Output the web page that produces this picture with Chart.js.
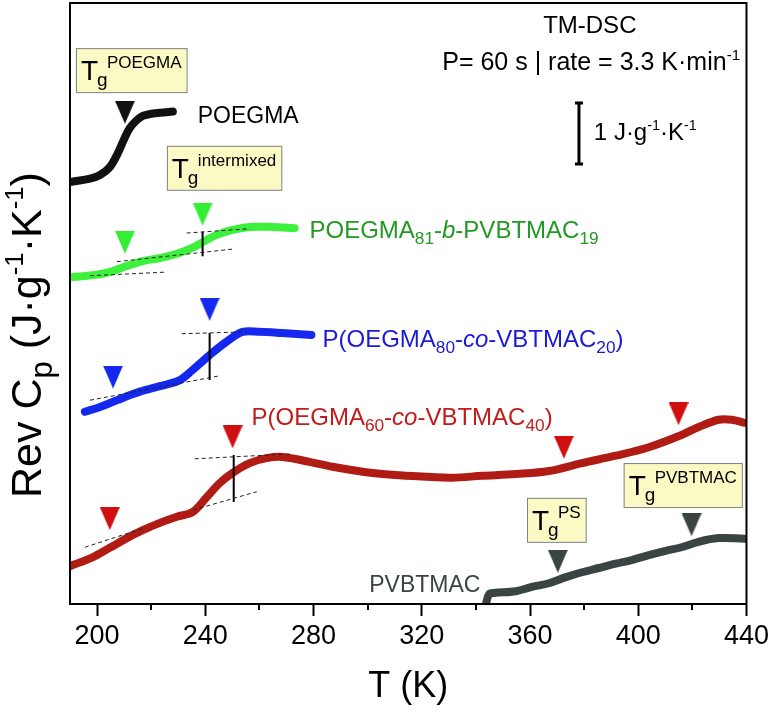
<!DOCTYPE html>
<html>
<head>
<meta charset="utf-8">
<script src="https://cdn.jsdelivr.net/npm/chart.js@4.4.1/dist/chart.umd.min.js"></script>
<style>
  body { margin: 0; background: #fff; }
  #wrap { width: 773px; height: 712px; }
</style>
</head>
<body>
<div id="wrap"><canvas id="dsc" width="773" height="712"></canvas></div>
<script>
// T in K, reversing Cp in J/g/K (curves shifted vertically for clarity)
const tPOEGMA  = [190.7, 197.4, 201.1, 204.7, 207.7, 209.9, 212.1, 214.7, 216.9, 219.5, 223.2, 228.0];
const cpPOEGMA = [6.92, 6.97, 7.03, 7.16, 7.39, 7.61, 7.80, 7.93, 8.00, 8.03, 8.05, 8.07];

const tBlock  = [191.1, 198.5, 204.7, 211.0, 216.9, 223.2, 229.5, 235.4, 239.0, 244.2, 250.1, 256.4, 264.9, 273.0];
const cpBlock = [5.36, 5.39, 5.44, 5.54, 5.62, 5.67, 5.74, 5.84, 5.93, 6.05, 6.13, 6.18, 6.18, 6.16];

const tCo80  = [195.5, 201.1, 207.3, 215.8, 223.2, 230.6, 235.4, 241.6, 247.9, 253.8, 260.1, 268.5, 279.2];
const cpCo80 = [3.15, 3.23, 3.34, 3.48, 3.57, 3.67, 3.84, 4.08, 4.30, 4.46, 4.46, 4.44, 4.41];

const tCo60  = [190.0, 198.5, 204.7, 211.0, 216.9, 223.2, 229.5, 235.4, 240.5, 245.3, 250.1, 256.4, 262.6, 268.5,
                278.5, 287.0, 299.5, 311.7, 323.8, 331.2, 342.3, 354.8, 367.0, 379.2, 391.7, 403.9, 416.0, 422.3,
                429.7, 434.5, 439.3];
const cpCo60 = [0.62, 0.77, 0.92, 1.08, 1.21, 1.33, 1.43, 1.51, 1.75, 1.98, 2.15, 2.31, 2.39, 2.41,
                2.33, 2.25, 2.16, 2.11, 2.08, 2.07, 2.10, 2.13, 2.18, 2.31, 2.43, 2.57, 2.77, 2.90,
                3.02, 3.02, 2.97];

const tPVB  = [343.8, 344.9, 346.7, 354.8, 360.7, 367.0, 373.3, 379.2, 385.4, 391.7, 397.6, 403.9, 410.1, 416.0, 422.3, 429.7, 439.3];
const cpPVB = [0.02, 0.16, 0.18, 0.21, 0.28, 0.34, 0.44, 0.52, 0.59, 0.66, 0.72, 0.80, 0.87, 0.93, 1.02, 1.08, 1.07];

// Tg markers (T, Cp at marker centre)
const tgPOEGMA = [[210.3, 8.06]];
const tgBlock  = [[210.3, 5.93], [239.0, 6.39]];
const tgCo80   = [[205.9, 3.72], [241.6, 4.83]];
const tgCo60   = [[204.7, 1.40], [250.1, 2.74], [372.5, 2.57], [414.9, 3.12]];
const tgPVB    = [[370.3, 0.70], [419.7, 1.30]];

// tangent construction lines
const tangents = [
  [[197.4, 5.38], [225.8, 5.44]], [[207.3, 5.61], [250.8, 5.82]], [[233.1, 6.08], [256.4, 6.15]],
  [[197.4, 3.34], [245.3, 3.74]], [[231.3, 4.43], [255.3, 4.46]],
  [[195.5, 0.93], [217.7, 1.25]], [[235.4, 1.54], [259.0, 1.84]], [[236.1, 2.38], [271.9, 2.46]]
];
// step height bars
const stepBars = [
  [[239.0, 6.10], [239.0, 5.70]],
  [[241.6, 4.44], [241.6, 3.67]],
  [[250.5, 2.44], [250.5, 1.67]]
];
// 1 J/g/K scale bar
const scaleBar = [[378.1, 8.21], [378.1, 7.21]];

const xTickLabels = [200, 240, 280, 320, 360, 400, 440];
const xMinorTicks = [220, 260, 300, 340, 380, 420];

const FONT = '"Liberation Sans", Arial, sans-serif';

function pts(xs, ys) { return xs.map((x, i) => ({x: x, y: ys[i]})); }
function pairs(a) { return a.map(p => ({x: p[0], y: p[1]})); }

function makeTri(color) {
  const c = document.createElement('canvas');
  c.width = 20; c.height = 23;
  const g = c.getContext('2d');
  g.fillStyle = color;
  g.beginPath(); g.moveTo(0, 0); g.lineTo(20, 0); g.lineTo(10, 23); g.closePath(); g.fill();
  return c;
}

function curve(data, color) {
  return {data: data, showLine: true, borderColor: color, borderWidth: 8, pointRadius: 0,
          tension: 0.35, borderCapStyle: 'round', borderJoinStyle: 'round', order: 5};
}
function markers(data, color) {
  return {data: pairs(data), showLine: false, pointStyle: makeTri(color), pointRadius: 10, order: 0};
}

const datasets = [
  curve(pts(tPOEGMA, cpPOEGMA), '#111111'),
  curve(pts(tBlock, cpBlock), '#3cf03c'),
  curve(pts(tCo80, cpCo80), '#1428f0'),
  curve(pts(tCo60, cpCo60), '#b01c14'),
  curve(pts(tPVB, cpPVB), '#3a4543'),
  markers(tgPOEGMA, '#111111'),
  markers(tgBlock, '#33ee33'),
  markers(tgCo80, '#1428f0'),
  markers(tgCo60, '#d01010'),
  markers(tgPVB, '#3a4543')
];
tangents.forEach(l => datasets.push({data: pairs(l), showLine: true, borderColor: '#222', borderWidth: 1,
  borderDash: [4, 3], pointRadius: 0, order: 2}));
stepBars.forEach(l => datasets.push({data: pairs(l), showLine: true, borderColor: '#000', borderWidth: 2,
  pointRadius: 0, order: 1}));
datasets.push({data: pairs(scaleBar), showLine: true, borderColor: '#000', borderWidth: 3,
  pointStyle: 'line', pointRadius: 4, pointBorderWidth: 3, pointBorderColor: '#000', order: 1});

// rich text: parts = [[text, kind]], kind: sub | sup | it
function richWidth(ctx, parts, size) {
  let w = 0;
  parts.forEach(p => {
    const k = p[1] || '';
    const s = k === 'sub' ? size * 0.72 : k === 'sup' ? size * 0.6 : size;
    ctx.font = (k === 'it' ? 'italic ' : '') + s + 'px ' + FONT;
    w += ctx.measureText(p[0]).width;
  });
  return w;
}
function drawRich(ctx, x, y, parts, size, color, align) {
  let cx = x;
  const w = richWidth(ctx, parts, size);
  if (align === 'center') cx -= w / 2;
  if (align === 'right') cx -= w;
  ctx.fillStyle = color;
  ctx.textBaseline = 'alphabetic';
  ctx.textAlign = 'left';
  parts.forEach(p => {
    const k = p[1] || '';
    let s = size, dy = 0;
    if (k === 'sub') { s = size * 0.72; dy = size * 0.25; }
    if (k === 'sup') { s = size * 0.6; dy = -size * 0.42; }
    ctx.font = (k === 'it' ? 'italic ' : '') + s + 'px ' + FONT;
    ctx.fillText(p[0], cx, y + dy);
    cx += ctx.measureText(p[0]).width;
  });
}

const notes = [
  {x: 382.1, y: 9.36, size: 24, color: '#000', align: 'center', parts: [['TM-DSC']]},
  {x: 437.6, y: 8.75, size: 25, color: '#000', align: 'right', parts: [['P= 60 s | rate = 3.3 K·min'], ['-1', 'sup']]},
  {x: 383.6, y: 7.61, size: 24, color: '#000', align: 'left', parts: [['1 J·g'], ['-1', 'sup'], ['·K'], ['-1', 'sup']]},
  {x: 237.2, y: 7.89, size: 23, color: '#000', align: 'left', parts: [['POEGMA']]},
  {x: 278.5, y: 6.00, size: 24, color: '#229922', align: 'left',
   parts: [['POEGMA'], ['81', 'sub'], ['-'], ['b', 'it'], ['-PVBTMAC'], ['19', 'sub']]},
  {x: 283.3, y: 4.21, size: 24, color: '#1a1ad8', align: 'left',
   parts: [['P(OEGMA'], ['80', 'sub'], ['-'], ['co', 'it'], ['-VBTMAC'], ['20', 'sub'], [')']]},
  {x: 257.1, y: 2.93, size: 24, color: '#c41a1a', align: 'left',
   parts: [['P(OEGMA'], ['60', 'sub'], ['-'], ['co', 'it'], ['-VBTMAC'], ['40', 'sub'], [')']]},
  {x: 300.6, y: 0.20, size: 23, color: '#3a4543', align: 'left', parts: [['PVBTMAC']]}
];
const tgBoxes = [
  {x: 192.2, y: 9.11, sup: 'POEGMA'},
  {x: 225.8, y: 7.51, sup: 'intermixed'},
  {x: 358.9, y: 1.74, sup: 'PS'},
  {x: 394.6, y: 2.31, sup: 'PVBTMAC'}
];

const decor = {
  id: 'decor',
  afterDatasetsDraw(chart) {
    const ctx = chart.ctx, xs = chart.scales.x, ys = chart.scales.y;
    ctx.save();
    notes.forEach(n => drawRich(ctx, xs.getPixelForValue(n.x), ys.getPixelForValue(n.y), n.parts, n.size, n.color, n.align));
    tgBoxes.forEach(b => {
      const l = xs.getPixelForValue(b.x), t = ys.getPixelForValue(b.y);
      ctx.font = '17px ' + FONT;
      const w = 31 + ctx.measureText(b.sup).width + 5;
      ctx.fillStyle = '#fbf9c4';
      ctx.fillRect(l, t, w, 44);
      ctx.strokeStyle = '#808080';
      ctx.lineWidth = 1;
      ctx.strokeRect(l + 0.5, t + 0.5, w, 44);
      ctx.fillStyle = '#000';
      ctx.font = '28px ' + FONT;
      ctx.fillText('T', l + 5, t + 32);
      ctx.font = '19px ' + FONT;
      ctx.fillText('g', l + 21, t + 38);
      ctx.font = '17px ' + FONT;
      ctx.fillText(b.sup, l + 31, t + 20);
    });
    ctx.restore();
  },
  afterDraw(chart) {
    const ctx = chart.ctx, a = chart.chartArea, xs = chart.scales.x;
    ctx.save();
    ctx.strokeStyle = '#000';
    ctx.lineWidth = 2;
    ctx.strokeRect(a.left, a.top, a.right - a.left, a.bottom - a.top);
    xMinorTicks.forEach(v => {
      const px = Math.round(xs.getPixelForValue(v));
      ctx.beginPath(); ctx.moveTo(px, a.bottom); ctx.lineTo(px, a.bottom + 6); ctx.stroke();
    });
    // y axis title
    ctx.translate(41, 335);
    ctx.rotate(-Math.PI / 2);
    drawRich(ctx, 0, 0, [['Rev C'], ['p', 'sub'], [' (J·g'], ['-1', 'sup'], ['·K'], ['-1', 'sup'], [')']], 43, '#000', 'center');
    ctx.restore();
  }
};

new Chart(document.getElementById('dsc').getContext('2d'), {
  type: 'scatter',
  data: {datasets: datasets},
  options: {
    responsive: false,
    animation: false,
    devicePixelRatio: 1,
    layout: {autoPadding: false, padding: {top: 3, right: 25, left: 0, bottom: 0}},
    plugins: {legend: {display: false}, tooltip: {enabled: false}},
    scales: {
      x: {
        type: 'linear', min: 190, max: 440,
        afterBuildTicks: s => { s.ticks = xTickLabels.map(v => ({value: v})); },
        afterFit: s => { s.height = 108; },
        grid: {display: true, drawOnChartArea: false, drawTicks: true, tickLength: 12, tickWidth: 2, tickColor: '#000'},
        border: {display: true, color: '#000', width: 2},
        ticks: {color: '#000', font: {family: FONT, size: 27}, padding: 4, maxRotation: 0, autoSkip: false},
        title: {display: true, text: 'T (K)', color: '#000', font: {family: FONT, size: 36}, padding: {top: 0, bottom: 3}}
      },
      y: {
        type: 'linear', min: 0, max: 9.85,
        afterFit: s => { s.width = 70; },
        grid: {display: false},
        border: {display: true, color: '#000', width: 2},
        ticks: {display: false}
      }
    }
  },
  plugins: [decor]
});
</script>
</body>
</html>
